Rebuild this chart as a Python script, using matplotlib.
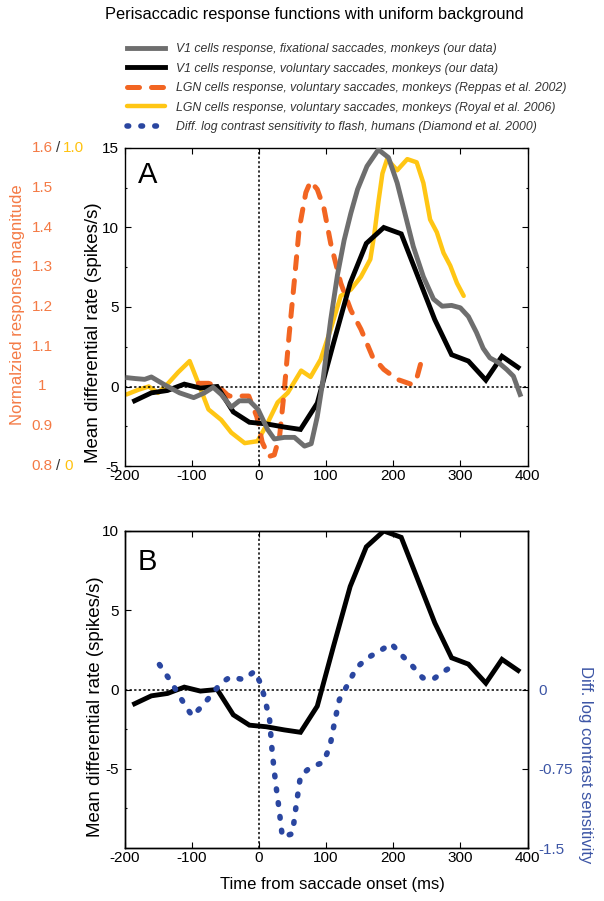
import matplotlib
matplotlib.use("Agg")
import matplotlib.pyplot as plt
import matplotlib.transforms as mtransforms
from matplotlib.ticker import FixedLocator

plt.rcParams['font.family'] = ['Liberation Sans', 'DejaVu Sans']
plt.rcParams['axes.linewidth'] = 1.0
plt.rcParams['axes.unicode_minus'] = False

# ---------------- data ----------------
# V1 cells, fixational saccades (spikes/s)
v1_fix_t = [-195, -184, -170, -160, -150, -140, -118, -97, -81, -68, -56, -41, -29, -14, -1,
            13, 23, 38, 53, 68, 78, 87, 95, 107, 117, 127, 137, 147, 161, 178, 193, 206, 218,
            230, 245, 260, 273, 287, 300, 312, 324, 334, 344, 357, 369, 379, 389]
v1_fix_rate = [0.55, 0.5, 0.45, 0.6, 0.35, 0.1, -0.4, -0.7, -0.4, -0.05, -0.5, -1.3, -0.9, -0.9, -1.45,
               -2.7, -3.3, -3.2, -3.2, -3.75, -3.6, -1.9, 0.25, 4.2, 7.0, 9.2, 10.9, 12.4, 13.85, 14.9, 14.4, 12.8, 10.8,
               8.8, 6.9, 5.5, 5.05, 5.1, 4.95, 4.4, 3.4, 2.4, 1.8, 1.5, 1.07, 0.65, -0.5]

# V1 cells, voluntary saccades (spikes/s)
v1_vol_t = [-185, -160, -136, -111, -87, -62, -38, -14, 11, 38, 62, 87, 111, 136, 160, 186,
            212, 237, 262, 287, 312, 338, 362, 386]
v1_vol_rate = [-0.9, -0.4, -0.25, 0.15, -0.1, 0.0, -1.6, -2.25, -2.35, -2.55, -2.7, -1.05, 2.7, 6.5, 9.0, 10.0,
               9.6, 6.9, 4.2, 2.0, 1.6, 0.4, 1.9, 1.2]

# LGN, Reppas et al. 2002 (normalized response magnitude, 0.8 - 1.6)
lgn_reppas_t = [-90, -75, -60, -45, -30, -15, -3, 5, 15, 23, 31, 38, 45, 53, 60, 70, 77, 87, 97, 107,
                122, 137, 152, 169, 186, 206, 228, 235, 242]
lgn_reppas_mag = [1.008, 1.008, 1.0, 0.976, 0.976, 0.976, 0.924, 0.86, 0.824, 0.828, 0.876, 0.992, 1.128,
                  1.268, 1.396, 1.488, 1.516, 1.496, 1.448, 1.36, 1.26, 1.192, 1.144, 1.076, 1.043, 1.018,
                  1.005, 1.02, 1.064]

# LGN, Royal et al. 2006 (normalized response magnitude, 0 - 1.0)
lgn_royal_t = [-197, -179, -164, -150, -135, -120, -103, -90, -75, -56, -41, -21, -2, 13, 28, 43, 63, 77,
               92, 107, 122, 137, 152, 166, 172, 178, 184, 191, 206, 221, 235, 245, 255, 265, 275, 285, 295, 305]
lgn_royal_mag = [0.225, 0.24, 0.25, 0.23, 0.26, 0.295, 0.33, 0.26, 0.178, 0.145, 0.105, 0.072, 0.078, 0.135,
                 0.2, 0.23, 0.30, 0.28, 0.335, 0.43, 0.535, 0.555, 0.595, 0.65, 0.73, 0.83, 0.92, 0.965, 0.93,
                 0.965, 0.955, 0.89, 0.775, 0.735, 0.67, 0.63, 0.575, 0.535]

# Diamond et al. 2000, diff. log contrast sensitivity (humans)
diamond_t = [-148, -133, -121, -109, -99, -87, -72, -57, -43, -23, -6, 1, 8, 16, 20, 25, 30, 35, 50, 55,
             62, 77, 96, 106, 113, 120, 135, 145, 162, 181, 197, 212, 229, 244, 259, 276, 296]
diamond_dlcs = [0.236, 0.095, -0.03, -0.158, -0.252, -0.173, -0.063, 0.057, 0.117, 0.095, 0.173, 0.078,
                -0.063, -0.284, -0.6, -0.885, -1.125, -1.395, -1.365, -1.125, -0.818, -0.735, -0.69, -0.534,
                -0.3, -0.095, 0.078, 0.204, 0.3, 0.368, 0.435, 0.33, 0.22, 0.11, 0.095, 0.173, 0.252]

legend_labels = [
    "V1 cells response, fixational saccades, monkeys (our data)",
    "V1 cells response, voluntary saccades, monkeys (our data)",
    "LGN cells response, voluntary saccades, monkeys (Reppas et al. 2002)",
    "LGN cells response, voluntary saccades, monkeys (Royal et al. 2006)",
    "Diff. log contrast sensitivity to flash, humans (Diamond et al. 2000)",
]
x_ticks = [-200, -100, 0, 100, 200, 300, 400]
rate_ticks_A = [-5, 0, 5, 10, 15]
rate_ticks_B = [-5, 0, 5, 10]
reppas_ticks = [0.8, 0.9, 1.0, 1.1, 1.2, 1.3, 1.4, 1.5, 1.6]
royal_ticks = [0, 1.0]
dlcs_ticks = [-1.5, -0.75, 0]

# ---------------- style ----------------
C_GRAY = '#6e6e6e'
C_BLACK = '#000000'
C_ORANGE = '#f26522'
C_YELLOW = '#ffc614'
C_BLUE = '#2a46a0'
T_ORANGE = '#f47a45'
T_YELLOW = '#ffc20e'
T_BLUE = '#3c55a5'
T_DARK = '#333333'

W, H = 604, 901
fig = plt.figure(figsize=(W / 100, H / 100), dpi=100)


def rect(l, t, r, b):
    return [l / W, 1 - b / H, (r - l) / W, (b - t) / H]


def fx(px):
    return px / W


def fy(py):
    return 1 - py / H


zero_style = dict(color='k', lw=1.1, ls=(0, (1.5, 1.5)), zorder=1)

# ---------------- panel A ----------------
axA = fig.add_axes(rect(124.5, 148, 527.5, 466))
axA_roy = axA.twinx()
axA_rep = axA.twinx()
axA_roy.set_ylim(0, 1.0)
axA_rep.set_ylim(0.8, 1.6)
axA_roy.axis('off')
axA_rep.axis('off')
axA_roy.set_zorder(1)
axA_rep.set_zorder(2)
axA.set_zorder(3)
axA.patch.set_visible(False)

l_yel, = axA_roy.plot(lgn_royal_t, lgn_royal_mag, color=C_YELLOW, lw=3.2,
                      solid_joinstyle='round', solid_capstyle='round')
l_org, = axA_rep.plot(lgn_reppas_t, lgn_reppas_mag, color=C_ORANGE, lw=3.6,
                      ls=(0, (2.4, 2.4)), dash_capstyle='round', dash_joinstyle='round')
axA.axhline(0, **zero_style)
axA.axvline(0, **zero_style)
l_blk, = axA.plot(v1_vol_t, v1_vol_rate, color=C_BLACK, lw=3.5, solid_joinstyle='miter', zorder=3)
l_gry, = axA.plot(v1_fix_t, v1_fix_rate, color=C_GRAY, lw=3.5, solid_joinstyle='round', zorder=4)

axA.set_xlim(-200, 400)
axA.set_ylim(-5, 15)
axA.set_xticks(x_ticks)
axA.set_yticks(rate_ticks_A)
axA.yaxis.set_minor_locator(FixedLocator([-2.5, 2.5, 7.5, 12.5]))
axA.tick_params(which='major', direction='in', top=True, right=True, labelsize=11,
                length=4, width=0.8)
axA.tick_params(which='minor', direction='in', left=True, right=True, length=1.5, width=0.8)
axA.tick_params(axis='x', pad=2.5)
axA.tick_params(axis='y', pad=4)

# Normalized response magnitude axis (left, coloured)
tr_rep = mtransforms.blended_transform_factory(fig.transFigure, axA_rep.transData)
tr_roy = mtransforms.blended_transform_factory(fig.transFigure, axA_roy.transData)
for v in reppas_ticks:
    axA_rep.text(fx(42), v, f'{v:g}' if v not in (0.8, 1.6) else f'{v:.1f}', transform=tr_rep,
                 ha='center', va='center', color=T_ORANGE, fontsize=11, clip_on=False)
for v in (reppas_ticks[0], reppas_ticks[-1]):
    axA_rep.text(fx(58.5), v, '/', transform=tr_rep, ha='center', va='center',
                 color=T_DARK, fontsize=11, clip_on=False)
axA_roy.text(fx(63), royal_ticks[-1], f'{royal_ticks[-1]:.1f}', transform=tr_roy,
             ha='left', va='center', color=T_YELLOW, fontsize=11, clip_on=False)
axA_roy.text(fx(64), royal_ticks[0], f'{royal_ticks[0]:g}', transform=tr_roy,
             ha='left', va='center', color=T_YELLOW, fontsize=11, clip_on=False)

fig.text(fx(18), fy(305), 'Normalzied response magnitude', rotation=90,
         ha='center', va='center', color=T_ORANGE, fontsize=12)
fig.text(fx(94), fy(333), 'Mean differential rate (spikes/s)', rotation=90,
         ha='center', va='center', color='k', fontsize=13.5)
fig.text(fx(138), fy(183), 'A', fontsize=21, ha='left', va='baseline')

# ---------------- panel B ----------------
axB = fig.add_axes(rect(124.5, 531, 527.5, 848))
axB.axhline(0, **zero_style)
axB.axvline(0, **zero_style)
axB.plot(v1_vol_t, v1_vol_rate, color=C_BLACK, lw=3.5, solid_joinstyle='miter', zorder=3)
axB.set_xlim(-200, 400)
axB.set_ylim(-10, 10)
axB.set_xticks(x_ticks)
axB.set_yticks(rate_ticks_B)
axB.yaxis.set_minor_locator(FixedLocator([-7.5, -2.5]))
axB.tick_params(which='major', direction='in', top=True, right=False, labelsize=11,
                length=4, width=0.8)
axB.tick_params(which='minor', direction='in', left=True, right=False, length=1.5, width=0.8)
axB.tick_params(axis='x', pad=2.5)
axB.tick_params(axis='y', pad=4)

axB_r = axB.twinx()
axB_r.set_ylim(-1.5, 1.5)
l_blu, = axB_r.plot(diamond_t, diamond_dlcs, color=C_BLUE, lw=4.0,
                    ls=(0, (0.3, 2.2)), dash_capstyle='round')
axB_r.set_yticks(dlcs_ticks)
axB_r.set_yticklabels([f'{v:g}' for v in dlcs_ticks])
axB_r.tick_params(direction='in', length=4, width=0.8, labelsize=11, labelcolor=T_BLUE, pad=8)

fig.text(fx(95), fy(707), 'Mean differential rate (spikes/s)', rotation=90,
         ha='center', va='center', color='k', fontsize=13.5)
fig.text(fx(586), fy(765), 'Diff. log contrast sensitivity', rotation=270,
         ha='center', va='center', color=T_BLUE, fontsize=12)
fig.text(fx(332), fy(885), 'Time from saccade onset (ms)', ha='center', va='center', fontsize=12)
fig.text(fx(138), fy(570), 'B', fontsize=21, ha='left', va='baseline')

# ---------------- title & legend ----------------
fig.text(fx(314), fy(15), 'Perisaccadic response functions with uniform background',
         ha='center', va='center', fontsize=11.8)

leg = fig.legend([l_gry, l_blk, l_org, l_yel, l_blu], legend_labels, loc='upper left',
                 bbox_to_anchor=(fx(127), fy(43)), frameon=False,
                 prop={'style': 'italic', 'size': 8.8}, handlelength=3.1, handletextpad=0.9,
                 labelspacing=0.62, borderpad=0, borderaxespad=0)
for t in leg.get_texts():
    t.set_color(T_DARK)

fig.savefig('out.png', dpi=100)
